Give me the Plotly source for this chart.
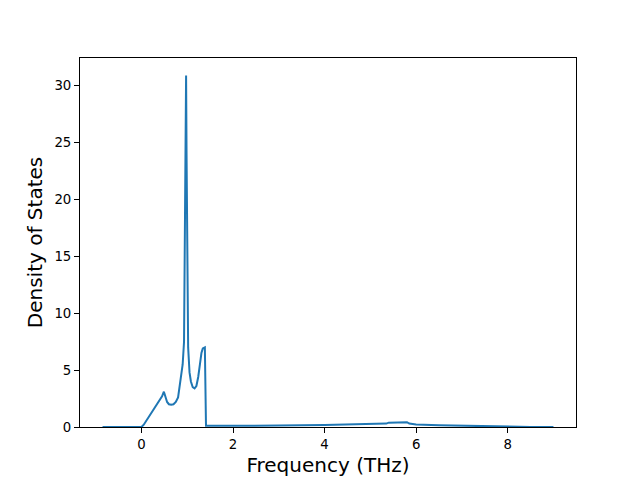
import plotly.graph_objects as go

freq = [-0.85, -0.5, 0.0, 0.05, 0.1, 0.15, 0.2, 0.25, 0.3, 0.35, 0.4, 0.45, 0.49, 0.52, 0.56,
        0.6, 0.65, 0.7, 0.75, 0.8, 0.83, 0.86, 0.9, 0.93, 0.955, 0.975, 0.985, 1.0, 1.02, 1.05,
        1.08, 1.12, 1.16, 1.2, 1.24, 1.28, 1.31, 1.34, 1.37, 1.385, 1.41, 1.5, 2.0, 3.0, 4.0,
        5.0, 5.35, 5.4, 5.6, 5.75, 5.8, 5.85, 6.0, 6.5, 7.0, 7.5, 8.0, 8.5, 9.0]
dos = [0.0, 0.0, 0.0, 0.2, 0.5, 0.85, 1.2, 1.5, 1.8, 2.1, 2.4, 2.7, 3.1, 2.6, 2.2,
       2.0, 1.95, 2.0, 2.2, 2.6, 3.5, 4.6, 5.5, 7.5, 18.0, 30.9, 24.0, 12.0, 7.0, 4.8,
       4.0, 3.5, 3.4, 3.6, 4.4, 5.6, 6.5, 6.9, 7.0, 7.0, 0.1, 0.1, 0.1, 0.13, 0.18,
       0.25, 0.3, 0.38, 0.38, 0.38, 0.42, 0.3, 0.22, 0.15, 0.1, 0.05, 0.02, 0.0, 0.0]

x_ticks = [0, 2, 4, 6, 8]
y_ticks = [0, 5, 10, 15, 20, 25, 30]

fig = go.Figure()
fig.add_trace(go.Scatter(x=freq, y=dos, mode="lines",
                         line=dict(color="#1f77b4", width=2), showlegend=False))

xmin, xmax = min(freq), max(freq)
xpad = (xmax - xmin) * 0.05
ymax = max(dos) * 1.05

axis_common = dict(showline=True, linecolor="black", linewidth=1, mirror=True,
                   ticks="outside", ticklen=5, tickwidth=1, tickcolor="black",
                   showgrid=False, zeroline=False, automargin=False,
                   tickfont=dict(family="DejaVu Sans", size=13.3, color="black"))

fig.update_layout(
    width=632, height=472,
    margin=dict(l=72, r=64, t=50, b=53),
    paper_bgcolor="white", plot_bgcolor="white",
    font=dict(family="DejaVu Sans", color="black"),
    xaxis=dict(range=[xmin - xpad, xmax + xpad], tickvals=x_ticks,
               title=dict(text="Frequency (THz)", font=dict(size=20), standoff=7),
               **axis_common),
    yaxis=dict(range=[0, ymax], tickvals=y_ticks,
               title=dict(text="Density of States", font=dict(size=20), standoff=6),
               **axis_common),
)

fig.write_html("out.html")
